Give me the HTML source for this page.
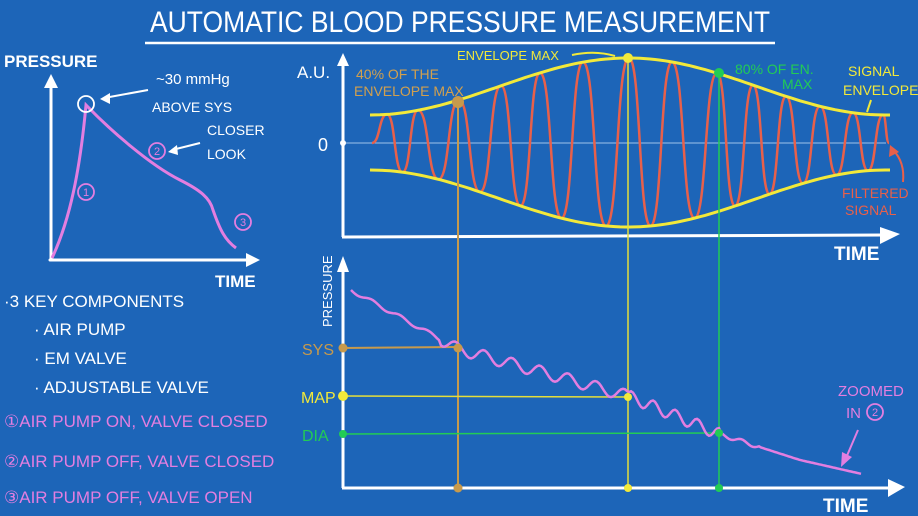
<!DOCTYPE html>
<html><head><meta charset="utf-8"><style>
html,body{margin:0;padding:0;background:#1d65b8;}
svg{display:block;font-family:"Liberation Sans",sans-serif;}
</style></head><body>
<svg id="s" width="918" height="516" viewBox="0 0 918 516" xmlns="http://www.w3.org/2000/svg">
<rect width="918" height="516" fill="#1d65b8"/>
<text x="460" y="32" fill="#fff" font-size="30" text-anchor="middle" textLength="620" lengthAdjust="spacingAndGlyphs">AUTOMATIC BLOOD PRESSURE MEASUREMENT</text>
<line x1="145" y1="43" x2="775" y2="43" stroke="#fff" stroke-width="2.5"/>

<!-- left chart -->
<g stroke="#fff" stroke-width="3" fill="none" stroke-linecap="round">
<path d="M51 260 L51 82"/><path d="M50 260 L252 260"/>
</g>
<polygon points="44,88 51,74 58,88" fill="#fff"/><polygon points="246,253 260,260 246,267" fill="#fff"/>
<text x="4" y="67" fill="#fff" font-size="17" font-weight="bold">PRESSURE</text>
<text x="215" y="287" fill="#fff" font-size="17" font-weight="bold">TIME</text>
<path d="M52 258 C70 220 80 170 86 105 C110 130 150 165 180 180 C200 190 210 198 213 210 C220 230 225 240 236 248" stroke="#e37ee0" stroke-width="3" fill="none"/>
<circle cx="86" cy="104" r="8" stroke="#fff" stroke-width="1.8" fill="none"/>
<path d="M148 90 L104 98" stroke="#fff" stroke-width="2"/><polygon points="100,99 110,93 110,104" fill="#fff"/>
<text x="156" y="84" fill="#fff" font-size="15">~30 mmHg</text>
<text x="152" y="112" fill="#fff" font-size="14">ABOVE SYS</text>
<text x="207" y="135" fill="#fff" font-size="14">CLOSER</text>
<text x="207" y="159" fill="#fff" font-size="14">LOOK</text>
<path d="M200 143 L172 150" stroke="#fff" stroke-width="2"/><polygon points="168,152 177,145 178,155" fill="#fff"/>
<g fill="none" stroke="#e37ee0" stroke-width="1.8"><circle cx="157" cy="151" r="8"/><circle cx="86" cy="192" r="8"/><circle cx="243" cy="222" r="8"/></g>
<g fill="#e37ee0" font-size="11" text-anchor="middle"><text x="157" y="155">2</text><text x="86" y="196">1</text><text x="243" y="226">3</text></g>

<g fill="#fff" font-size="17">
<text x="4" y="307">·3 KEY COMPONENTS</text>
<text x="34" y="335">· AIR PUMP</text>
<text x="34" y="364">· EM VALVE</text>
<text x="34" y="393">· ADJUSTABLE VALVE</text>
</g>
<g fill="#e37ee0" font-size="17">
<text x="4" y="427">①AIR PUMP ON, VALVE CLOSED</text>
<text x="4" y="467">②AIR PUMP OFF, VALVE CLOSED</text>
<text x="4" y="503">③AIR PUMP OFF, VALVE OPEN</text>
</g>

<!-- top right chart -->
<line x1="343" y1="143" x2="886" y2="143" stroke="#9fc3ea" stroke-width="1"/>
<circle cx="343" cy="143" r="3" fill="#fff"/>
<g stroke="#fff" stroke-width="3" fill="none"><path d="M343 237 L343 62"/><path d="M342 237 L885 235"/></g>
<polygon points="337,66 343,53 349,66" fill="#fff"/><polygon points="880,227 900,234 880,244" fill="#fff"/>
<text x="297" y="78" fill="#fff" font-size="17">A.U.</text>
<text x="318" y="151" fill="#fff" font-size="18">0</text>
<text x="834" y="260" fill="#fff" font-size="19" font-weight="bold">TIME</text>
<path id="sig" stroke="#e8604a" stroke-width="2.5" fill="none"/>
<path id="envU" stroke="#f2e93a" stroke-width="3" fill="none"/>
<path id="envL" stroke="#f2e93a" stroke-width="3" fill="none"/>

<text x="356" y="79" fill="#d2a04e" font-size="14">40% OF THE</text>
<text x="354" y="96" fill="#d2a04e" font-size="14">ENVELOPE MAX</text>
<text x="457" y="60" fill="#f2e93a" font-size="13">ENVELOPE MAX</text>
<path d="M572 55 Q595 50 615 56" stroke="#f2e93a" stroke-width="2" fill="none"/>
<text x="735" y="74" fill="#22cc55" font-size="14">80% OF EN.</text>
<text x="782" y="89" fill="#22cc55" font-size="14">MAX</text>
<text x="848" y="76" fill="#f2e93a" font-size="14">SIGNAL</text>
<text x="843" y="95" fill="#f2e93a" font-size="14">ENVELOPE</text>
<path d="M871 100 L867 112" stroke="#f2e93a" stroke-width="2"/>
<text x="842" y="198" fill="#e8604a" font-size="14">FILTERED</text>
<text x="845" y="215" fill="#e8604a" font-size="14">SIGNAL</text>
<path d="M903 182 Q905 162 893 150" stroke="#e8604a" stroke-width="2" fill="none"/><polygon points="890,145 899,152 889,157" fill="#e8604a"/>

<!-- vertical lines -->
<line x1="458" y1="102" x2="458" y2="488" stroke="#c79a4c" stroke-width="2"/>
<line x1="628" y1="58" x2="628" y2="488" stroke="#e5df3a" stroke-width="1.5"/>
<line x1="719" y1="73" x2="719" y2="488" stroke="#22cc55" stroke-width="1.5"/>

<!-- bottom chart -->
<g stroke="#fff" stroke-width="3" fill="none"><path d="M343 488 L343 268"/><path d="M342 488 L895 488"/></g>
<polygon points="337,272 343,256 349,272" fill="#fff"/><polygon points="888,479 905,487 888,497" fill="#fff"/>
<text transform="translate(332,327) rotate(-90)" fill="#fff" font-size="13">PRESSURE</text>
<text x="823" y="512" fill="#fff" font-size="19" font-weight="bold">TIME</text>
<line x1="343" y1="348" x2="458" y2="347" stroke="#c79a4c" stroke-width="2"/>
<line x1="343" y1="396" x2="628" y2="397" stroke="#e5df3a" stroke-width="1.5"/>
<line x1="343" y1="434" x2="719" y2="433" stroke="#22cc55" stroke-width="1.5"/>
<text x="302" y="355" fill="#c79a4c" font-size="16">SYS</text>
<text x="301" y="403" fill="#f2e93a" font-size="16">MAP</text>
<text x="302" y="441" fill="#22cc55" font-size="16">DIA</text>
<path id="pr" stroke="#e37ee0" stroke-width="2.5" fill="none"/>
<text x="838" y="396" fill="#e37ee0" font-size="15">ZOOMED</text>
<text x="846" y="418" fill="#e37ee0" font-size="15">IN</text>
<circle cx="875" cy="412" r="8" stroke="#e37ee0" stroke-width="1.8" fill="none"/>
<text x="875" y="416" fill="#e37ee0" font-size="11" text-anchor="middle">2</text>
<path d="M858 430 L846 458" stroke="#e37ee0" stroke-width="2"/><polygon points="841,467 842,452 852,457" fill="#e37ee0"/>

<g>
<circle cx="458" cy="102" r="6" fill="#c79a4c"/><circle cx="628" cy="58" r="5" fill="#f2e93a"/><circle cx="719" cy="73" r="5" fill="#22cc55"/>
<circle cx="343" cy="348" r="4.5" fill="#c79a4c"/><circle cx="458" cy="348" r="4.5" fill="#c79a4c"/><circle cx="458" cy="488" r="4.5" fill="#c79a4c"/>
<circle cx="343" cy="396" r="5" fill="#f2e93a"/><circle cx="628" cy="397" r="4" fill="#f2e93a"/><circle cx="628" cy="488" r="4" fill="#f2e93a"/>
<circle cx="343" cy="434" r="4" fill="#22cc55"/><circle cx="719" cy="433" r="4" fill="#22cc55"/><circle cx="719" cy="488" r="4" fill="#22cc55"/>
</g>
</svg>
<script>
function A(x){return 28+57*(0.5+0.5*Math.cos(Math.PI*Math.max(-1,Math.min(1,(x-628)/258))));}
var u="",l="";for(var x=370;x<=890;x+=5){u+=(x==370?"M":"L")+x+" "+(143-A(x)).toFixed(1);l+=(x==370?"M":"L")+x+" "+(142+A(x)).toFixed(1);}
document.getElementById("envU").setAttribute("d",u);document.getElementById("envL").setAttribute("d",l);
var pk=[387,418,459,501,540,583,629,672,717,753,786,820,853,883];
var pts=[[372,143]];
for(var i=0;i<pk.length;i++){pts.push([pk[i],143-A(pk[i])]);if(i<pk.length-1){var t=(pk[i]+pk[i+1])/2;pts.push([t,142+A(t)]);}}
pts.push([889,143]);
var d="M"+pts[0][0]+" "+pts[0][1];
for(var i=1;i<pts.length;i++){var a=pts[i-1],b=pts[i],dx=(b[0]-a[0])*0.55;d+=" C"+(a[0]+dx)+" "+a[1]+" "+(b[0]-dx)+" "+b[1]+" "+b[0]+" "+b[1];}
document.getElementById("sig").setAttribute("d",d);
var base=[[351,290],[458,349],[628,396],[719,434],[800,460],[862,474]];
function by(x){for(var i=1;i<base.length;i++){if(x<=base[i][0]){var a=base[i-1],b=base[i];return a[1]+(b[1]-a[1])*(x-a[0])/(b[0]-a[0]);}}return 474;}
var p="";for(var x=351;x<=862;x+=2){var amp=x<440?2:(x<720?6:(x<760?2:0));var y=by(x)+amp*Math.sin((x-351)/(x<628?28:22)*2*Math.PI);p+=(x==351?"M":"L")+x+" "+y.toFixed(1);}
document.getElementById("pr").setAttribute("d",p);
</script>
</body></html>
